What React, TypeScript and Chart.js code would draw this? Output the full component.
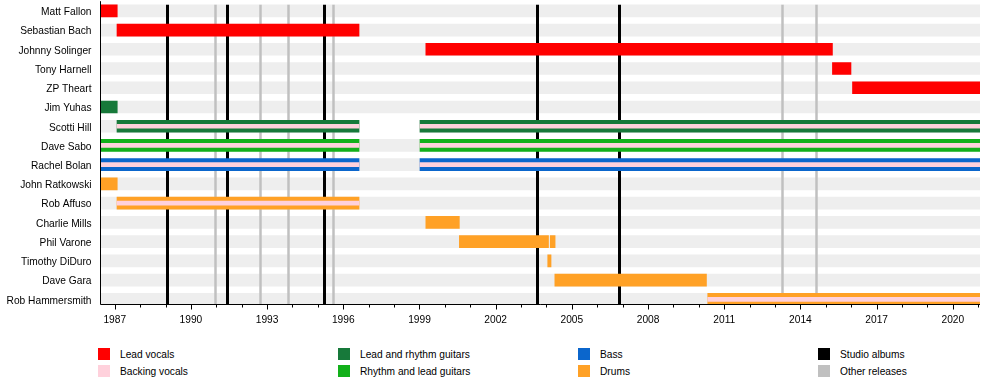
import React, { useEffect, useRef } from "react";
import { Chart, registerables } from "chart.js";

Chart.register(...registerables);

// ---------- data ----------
const members = [
  "Matt Fallon",
  "Sebastian Bach",
  "Johnny Solinger",
  "Tony Harnell",
  "ZP Theart",
  "Jim Yuhas",
  "Scotti Hill",
  "Dave Sabo",
  "Rachel Bolan",
  "John Ratkowski",
  "Rob Affuso",
  "Charlie Mills",
  "Phil Varone",
  "Timothy DiDuro",
  "Dave Gara",
  "Rob Hammersmith",
];

const axisStart = 1986.46;
const axisEnd = 2021.07;

const labeledYears = [1987, 1990, 1993, 1996, 1999, 2002, 2005, 2008, 2011, 2014, 2017, 2020];
const tickYears = [
  1987, 1988, 1989, 1990, 1991, 1992, 1993, 1994, 1995, 1996, 1997, 1998,
  1999, 2000, 2001, 2002, 2003, 2004, 2005, 2006, 2007, 2008, 2009, 2010,
  2011, 2012, 2013, 2014, 2015, 2016, 2017, 2018, 2019, 2020, 2021,
];

// [row, start, end]
const backgroundBands: [number, number, number][] = [
  [0, axisStart, axisEnd],
  [1, axisStart, axisEnd],
  [2, axisStart, axisEnd],
  [3, axisStart, axisEnd],
  [4, axisStart, axisEnd],
  [5, axisStart, axisEnd],
  [6, axisStart, 1996.62],
  [6, 1999.02, axisEnd],
  [7, axisStart, axisEnd],
  [8, axisStart, axisEnd],
  [9, axisStart, axisEnd],
  [10, axisStart, axisEnd],
  [11, axisStart, axisEnd],
  [12, axisStart, axisEnd],
  [13, axisStart, axisEnd],
  [14, axisStart, axisEnd],
  [15, axisStart, axisEnd],
];

const leadVocals: [number, number, number][] = [
  [0, 1986.46, 1987.1],
  [1, 1987.09, 1996.62],
  [2, 1999.25, 2015.26],
  [3, 2015.26, 2015.99],
  [4, 2016.05, 2021.07],
];

const leadRhythmGuitars: [number, number, number][] = [
  [5, 1986.46, 1987.1],
  [6, 1987.09, 1996.62],
  [6, 1999.02, 2021.07],
];

const rhythmLeadGuitars: [number, number, number][] = [
  [7, 1986.46, 1996.62],
  [7, 1999.02, 2021.07],
];

const bass: [number, number, number][] = [
  [8, 1986.46, 1996.62],
  [8, 1999.02, 2021.07],
];

const drums: [number, number, number][] = [
  [9, 1986.46, 1987.1],
  [10, 1987.09, 1996.62],
  [11, 1999.25, 2000.57],
  [12, 2000.57, 2004.08],
  [12, 2004.15, 2004.34],
  [13, 2004.05, 2004.18],
  [14, 2004.33, 2010.3],
  [15, 2010.35, 2021.07],
];

const backingVocals: [number, number, number][] = [
  [6, 1987.09, 1996.62],
  [6, 1999.02, 2021.07],
  [7, 1986.46, 1996.62],
  [7, 1999.02, 2021.07],
  [8, 1986.46, 1996.62],
  [8, 1999.02, 2021.07],
  [10, 1987.09, 1996.62],
  [15, 2010.35, 2021.07],
];

const studioAlbums = [1989.06, 1991.43, 1995.26, 2003.63, 2006.85];
const otherReleases = [1990.93, 1992.72, 1993.84, 1995.59, 2013.28, 2014.61];

// ---------- styles ----------
const FONT = "'Liberation Sans', Arial, Helvetica, sans-serif";
const COLORS = {
  band: "#eeeeee",
  leadVocals: "#ff0000",
  backingVocals: "#ffd1dc",
  leadRhythm: "#17793a",
  rhythmLead: "#12b01a",
  bass: "#0b66cc",
  drums: "#ffa126",
  studio: "#000000",
  other: "#c0c0c0",
};

const legendItems = [
  { label: "Lead vocals", color: COLORS.leadVocals, col: 0, row: 0 },
  { label: "Backing vocals", color: COLORS.backingVocals, col: 0, row: 1 },
  { label: "Lead and rhythm guitars", color: COLORS.leadRhythm, col: 1, row: 0 },
  { label: "Rhythm and lead guitars", color: COLORS.rhythmLead, col: 1, row: 1 },
  { label: "Bass", color: COLORS.bass, col: 2, row: 0 },
  { label: "Drums", color: COLORS.drums, col: 2, row: 1 },
  { label: "Studio albums", color: COLORS.studio, col: 3, row: 0 },
  { label: "Other releases", color: COLORS.other, col: 3, row: 1 },
];
const legendColX = [98, 338, 578, 818];
const legendRowY = [347.5, 364.5];

const toData = (arr: [number, number, number][]) =>
  arr.map(([r, s, e]) => ({ y: r, x: [s, e] }));

const zeroPadding = (s: any) => {
  s.paddingTop = 0;
  s.paddingBottom = 0;
  s.paddingLeft = 0;
  s.paddingRight = 0;
};

export default function App() {
  const canvasRef = useRef<HTMLCanvasElement | null>(null);

  useEffect(() => {
    if (!canvasRef.current) return;

    const linesPlugin = {
      id: "releaseLines",
      afterDatasetDraw(chart: any, args: any) {
        if (args.index !== 0) return;
        const { ctx, chartArea, scales } = chart;
        const xs = scales.x;
        const ys = scales.y;
        const top = ys.getPixelForValue(0) - 6;
        const bottom = chartArea.bottom;
        ctx.save();
        const draw = (vals: number[], color: string, w: number) => {
          ctx.strokeStyle = color;
          ctx.lineWidth = w;
          vals.forEach((v) => {
            const px = Math.round(xs.getPixelForValue(v)) + 0.5;
            ctx.beginPath();
            ctx.moveTo(px, top);
            ctx.lineTo(px, bottom);
            ctx.stroke();
          });
        };
        draw(otherReleases, COLORS.other, 2.5);
        draw(studioAlbums, COLORS.studio, 3);
        ctx.restore();
      },
    };

    const axesPlugin = {
      id: "axesAndTicks",
      afterDraw(chart: any) {
        const { ctx, chartArea, scales } = chart;
        const xs = scales.x;
        const left = Math.round(chartArea.left) - 0.5;
        const bottom = Math.round(chartArea.bottom) - 0.5;
        ctx.save();
        ctx.strokeStyle = "#000";
        ctx.lineWidth = 1;
        ctx.beginPath();
        ctx.moveTo(left, chartArea.top);
        ctx.lineTo(left, bottom);
        ctx.lineTo(chartArea.right, bottom);
        ctx.stroke();
        tickYears.forEach((yr) => {
          const px = Math.round(xs.getPixelForValue(yr)) + 0.5;
          const len = labeledYears.includes(yr) ? 5 : 3;
          ctx.beginPath();
          ctx.moveTo(px, bottom);
          ctx.lineTo(px, bottom + len);
          ctx.stroke();
        });
        ctx.restore();
      },
    };

    const barDs = (label: string, arr: [number, number, number][], color: string, thickness: number, order: number) => ({
      label,
      data: toData(arr),
      backgroundColor: color,
      borderWidth: 0,
      barThickness: thickness,
      grouped: false,
      order,
    });

    const chart = new Chart(canvasRef.current, {
      type: "bar",
      data: {
        datasets: [
          barDs("bands", backgroundBands, COLORS.band, 12, 100),
          barDs("Lead vocals", leadVocals, COLORS.leadVocals, 12, 2),
          barDs("Lead and rhythm guitars", leadRhythmGuitars, COLORS.leadRhythm, 12, 2),
          barDs("Rhythm and lead guitars", rhythmLeadGuitars, COLORS.rhythmLead, 12, 2),
          barDs("Bass", bass, COLORS.bass, 12, 2),
          barDs("Drums", drums, COLORS.drums, 12, 2),
          barDs("Backing vocals", backingVocals, COLORS.backingVocals, 4, 1),
        ] as any,
      },
      options: {
        indexAxis: "y",
        responsive: false,
        animation: false,
        events: [],
        layout: { padding: { top: 1.2, right: 20, left: 0, bottom: 0 } },
        plugins: { legend: { display: false }, tooltip: { enabled: false } },
        scales: {
          x: {
            type: "linear",
            position: "bottom",
            offset: false,
            min: axisStart,
            max: axisEnd,
            grid: { display: false, drawTicks: false },
            border: { display: false },
            ticks: {
              padding: 9,
              color: "#000",
              autoSkip: false,
              maxRotation: 0,
              font: { family: FONT, size: 10.2 },
              callback: (v: any) => String(v),
            },
            afterBuildTicks: (s: any) => {
              s.ticks = labeledYears.map((v) => ({ value: v }));
            },
            afterFit: (s: any) => {
              s.height = 30;
              zeroPadding(s);
            },
          },
          y: {
            type: "linear",
            reverse: true,
            offset: false,
            min: -0.5,
            max: 15.296,
            grid: { display: false, drawTicks: false },
            border: { display: false },
            ticks: {
              padding: 9.5,
              labelOffset: 1.5,
              color: "#000",
              autoSkip: false,
              font: { family: FONT, size: 10.2 },
              callback: (v: any) => members[v] ?? "",
            },
            afterBuildTicks: (s: any) => {
              s.ticks = members.map((_, i) => ({ value: i }));
            },
            afterFit: (s: any) => {
              s.width = 101;
              zeroPadding(s);
            },
          },
        },
      } as any,
      plugins: [linesPlugin, axesPlugin],
    });

    return () => chart.destroy();
  }, []);

  return (
    <div style={{ position: "absolute", left: 0, top: 0, width: 1000, height: 385, background: "#fff" }}>
      <canvas ref={canvasRef} width={1000} height={335} style={{ display: "block" }} />
      {legendItems.map((it) => (
        <React.Fragment key={it.label}>
          <div
            style={{
              position: "absolute",
              left: legendColX[it.col],
              top: legendRowY[it.row],
              width: 12,
              height: 12,
              background: it.color,
            }}
          />
          <div
            style={{
              position: "absolute",
              left: legendColX[it.col] + 22,
              top: legendRowY[it.row] + 1,
              height: 12,
              lineHeight: "12px",
              fontSize: 10.2,
              fontFamily: FONT,
              color: "#000",
              whiteSpace: "nowrap",
            }}
          >
            {it.label}
          </div>
        </React.Fragment>
      ))}
    </div>
  );
}
